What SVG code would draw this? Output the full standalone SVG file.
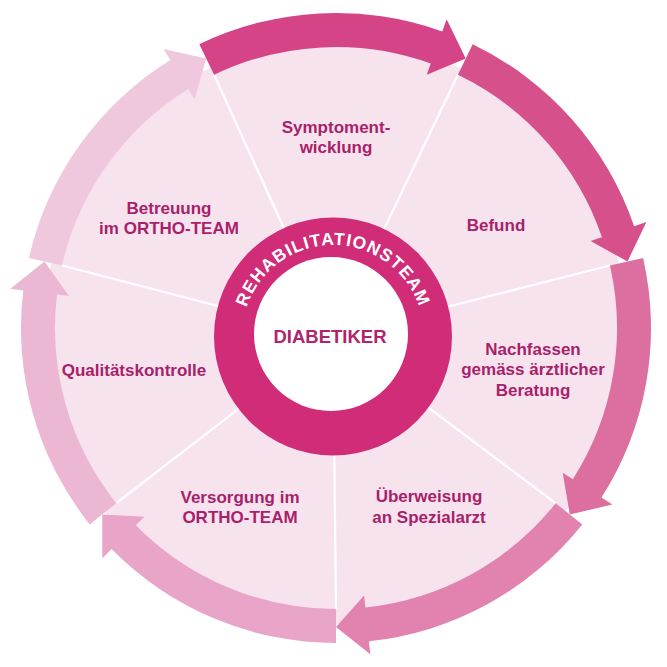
<svg xmlns="http://www.w3.org/2000/svg" width="667" height="667" viewBox="0 0 667 667">
<style>
.lbl{font-family:"Liberation Sans",Arial,sans-serif;font-weight:bold;font-size:17px;fill:#a81f6a;text-anchor:middle}
.div{stroke:#ffffff;stroke-width:2.2;fill:none}
.ringtxt{font-family:"Liberation Sans",Arial,sans-serif;font-weight:bold;font-size:17.5px;fill:#ffffff;letter-spacing:1.1px}
</style>
<defs>
<path id="ringArc" d="M242,336 A91,91 0 0 1 424,336"/>
</defs>
<rect width="667" height="667" fill="#ffffff"/>
<g id="pie">
<circle cx="335" cy="332" r="292" fill="#f7e3ee"/>
</g>
<g id="dividers">
<line class="div" x1="333" y1="336" x2="214.08" y2="74.83"/>
<line class="div" x1="333" y1="336" x2="457.92" y2="74.83"/>
<line class="div" x1="333" y1="336" x2="609.96" y2="265.47"/>
<line class="div" x1="333" y1="336" x2="555.69" y2="503.20"/>
<line class="div" x1="333" y1="336" x2="336" y2="609"/>
<line class="div" x1="333" y1="336" x2="116.31" y2="503.20"/>
<line class="div" x1="333" y1="336" x2="62.04" y2="265.47"/>
</g>
<g id="connectors">
<path id="arrow-symptom" fill="#d44486" d="M199.33,44.19 A315,315 0 0 1 442.26,31.46 L446.64,19.22 L465.73,58.61 L426.74,74.77 L430.79,63.47 A281,281 0 0 0 214.08,74.83 Z"/>
<path id="arrow-befund" fill="#d6508c" d="M472.67,44.19 A315,315 0 0 1 634.09,226.19 L646.40,221.99 L627.50,261.47 L590.56,241.06 L601.92,237.18 A281,281 0 0 0 457.92,74.83 Z"/>
<path id="arrow-nachfassen" fill="#dc6ea0" d="M643.10,257.91 A315,315 0 0 1 601.46,497.58 L612.42,504.58 L569.77,514.42 L562.69,472.81 L572.81,479.27 A281,281 0 0 0 609.96,265.47 Z"/>
<path id="arrow-ueberweisung" fill="#e182af" d="M582.28,524.40 A315,315 0 0 1 368.93,641.27 L370.29,654.20 L336,627 L364.12,595.53 L365.37,607.46 A281,281 0 0 0 555.69,503.20 Z"/>
<path id="arrow-versorgung" fill="#e8a5c7" d="M336,643 A315,315 0 0 1 111.60,549.07 L102.34,558.19 L102.23,514.42 L144.37,516.78 L135.82,525.21 A281,281 0 0 0 336,609 Z"/>
<path id="arrow-qualitaet" fill="#ecb7d2" d="M89.72,524.40 A315,315 0 0 1 23.25,290.39 L10.35,288.84 L44.50,261.47 L68.92,295.88 L57.01,294.45 A281,281 0 0 0 116.31,503.20 Z"/>
<path id="arrow-betreuung" fill="#f0c8de" d="M28.90,257.91 A315,315 0 0 1 170.41,60.04 L163.58,48.98 L206.27,58.61 L194.59,99.17 L188.28,88.96 A281,281 0 0 0 62.04,265.47 Z"/>
</g>
<g id="node-symptom">
<text class="lbl" x="336" y="133">Symptoment-</text>
<text class="lbl" x="336" y="153">wicklung</text>
</g>
<g id="node-befund">
<text class="lbl" x="496" y="231">Befund</text>
</g>
<g id="node-nachfassen">
<text class="lbl" x="533" y="355">Nachfassen</text>
<text class="lbl" x="533" y="375">gemäss ärztlicher</text>
<text class="lbl" x="533" y="396">Beratung</text>
</g>
<g id="node-ueberweisung">
<text class="lbl" x="429" y="502">Überweisung</text>
<text class="lbl" x="429" y="523">an Spezialarzt</text>
</g>
<g id="node-versorgung">
<text class="lbl" x="240" y="503">Versorgung im</text>
<text class="lbl" x="240" y="523">ORTHO-TEAM</text>
</g>
<g id="node-qualitaet">
<text class="lbl" x="134" y="376">Qualitätskontrolle</text>
</g>
<g id="node-betreuung">
<text class="lbl" x="169" y="214">Betreuung</text>
<text class="lbl" x="169" y="234">im ORTHO-TEAM</text>
</g>
<g id="node-center">
<circle cx="333" cy="336.5" r="119" fill="#d02c78"/>
<circle cx="331" cy="334" r="77" fill="#ffffff"/>
<text class="ringtxt"><textPath href="#ringArc" startOffset="50%" text-anchor="middle">REHABILITATIONSTEAM</textPath></text>
<text class="lbl" x="330" y="343" style="font-size:18.5px;fill:#b0246e">DIABETIKER</text>
</g>
</svg>
